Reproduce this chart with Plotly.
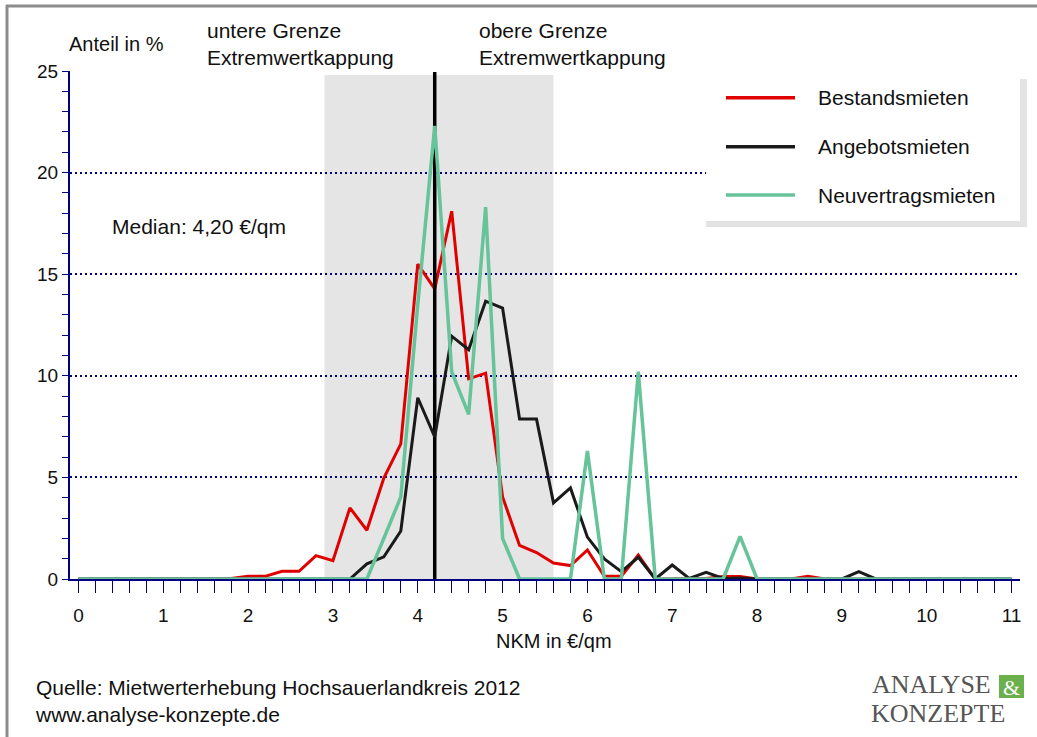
import plotly.graph_objects as go

# ---------------- data ----------------
x_values = [round(0.2 * i, 1) for i in range(56)]  # 0.0 ... 11.0 in 0.2 steps (category grid)

bestandsmieten = [0, 0, 0, 0, 0, 0, 0, 0, 0, 0.03,
                  0.13, 0.13, 0.38, 0.38, 1.15, 0.9, 3.5, 2.4, 4.97, 6.65,
                  15.5, 14.28, 18.1, 9.85, 10.13, 4.04, 1.65, 1.3, 0.79, 0.66,
                  1.43, 0.13, 0.13, 1.18, 0, 0.02, 0.02, 0.02, 0.12, 0.12,
                  0, 0, 0, 0.13, 0, 0, 0, 0, 0, 0,
                  0, 0, 0, 0, 0, 0]

angebotsmieten = [0, 0, 0, 0, 0, 0, 0, 0, 0, 0,
                  0, 0, 0, 0, 0, 0, 0, 0.75, 1.09, 2.36,
                  8.92, 6.99, 11.95, 11.28, 13.67, 13.33, 7.87, 7.87, 3.75, 4.48,
                  2.06, 0.99, 0.36, 1.07, 0, 0.69, 0.03, 0.33, 0.03, 0.05,
                  0, 0, 0, 0, 0, 0, 0.36, 0, 0, 0,
                  0, 0, 0, 0, 0, 0]

neuvertragsmieten = [0, 0, 0, 0, 0, 0, 0, 0, 0, 0,
                     0, 0, 0, 0, 0, 0, 0, 0, 2.0, 4.04,
                     13.5, 22.3, 10.2, 8.1, 18.3, 2.0, 0, 0, 0, 0,
                     6.3, 0, 0, 10.2, 0, 0, 0, 0, 0, 2.1,
                     0, 0, 0, 0, 0, 0, 0, 0, 0, 0,
                     0, 0, 0, 0, 0, 0]

series_names = ["Bestandsmieten", "Angebotsmieten", "Neuvertragsmieten"]
series_colors = ["#E00000", "#1A1A1A", "#66C39A"]

median_value = 4.2
lower_cap = 2.9
upper_cap = 5.6
x_tick_labels = [str(i) for i in range(12)]
y_tick_values = [0, 5, 10, 15, 20, 25]

# ---------------- layout helpers ----------------
W, H = 1037, 737
L, R, T, B = 70, 17, 71, 158
PW, PH = W - L - R, H - T - B


def px(x):
    return (x - L) / PW


def py(y):
    return (H - B - y) / PH


FONT = "Liberation Sans, Arial, sans-serif"
SERIF = "Liberation Serif, Times New Roman, serif"
NAVY = "#000080"
TXT = "#111111"

fig = go.Figure()

fig.add_trace(go.Scatter(x=x_values, y=bestandsmieten, mode="lines", name=series_names[0],
                         line=dict(color=series_colors[0], width=3), showlegend=False))
fig.add_trace(go.Scatter(x=[median_value, median_value], y=[0, 24.95], mode="lines",
                         line=dict(color="#000000", width=3.5), showlegend=False, hoverinfo="skip"))
fig.add_trace(go.Scatter(x=x_values, y=angebotsmieten, mode="lines", name=series_names[1],
                         line=dict(color=series_colors[1], width=3), showlegend=False))
fig.add_trace(go.Scatter(x=x_values, y=neuvertragsmieten, mode="lines", name=series_names[2],
                         line=dict(color=series_colors[2], width=3.5), showlegend=False))

shapes = []
shapes.append(dict(type="rect", xref="x", yref="y", x0=lower_cap, x1=upper_cap, y0=0, y1=24.8,
                   fillcolor="#E5E5E5", line=dict(width=0), layer="below"))
# outer frame (top and left)
shapes.append(dict(type="line", xref="paper", yref="paper", x0=px(6), x1=px(1045), y0=py(6), y1=py(6),
                   line=dict(color="#8C8C8C", width=3), layer="above"))
shapes.append(dict(type="line", xref="paper", yref="paper", x0=px(7), x1=px(7), y0=py(5), y1=py(745),
                   line=dict(color="#8C8C8C", width=3), layer="above"))
# legend box with shadow
shapes.append(dict(type="rect", xref="paper", yref="paper", x0=px(706), x1=px(1027), y0=py(79), y1=py(227),
                   fillcolor="#E3E3E3", line=dict(width=0), layer="above"))
shapes.append(dict(type="rect", xref="paper", yref="paper", x0=px(706), x1=px(1020), y0=py(79), y1=py(221),
                   fillcolor="#FFFFFF", line=dict(width=0), layer="above"))
legend_rows = [97.7, 146.7, 195.0]
annotations = []
for name, color, yy in zip(series_names, series_colors, legend_rows):
    shapes.append(dict(type="line", xref="paper", yref="paper", x0=px(726), x1=px(795), y0=py(yy), y1=py(yy),
                       line=dict(color=color, width=3.5), layer="above"))
    annotations.append(dict(xref="paper", yref="paper", x=px(816), y=py(yy), text=name, showarrow=False,
                            xanchor="left", yanchor="middle", font=dict(family=FONT, size=21, color=TXT)))
# logo "&" box
shapes.append(dict(type="rect", xref="paper", yref="paper", x0=px(999), x1=px(1024), y0=py(675), y1=py(698),
                   fillcolor="#6AB04C", line=dict(width=0), layer="above"))

annotations += [
    dict(xref="paper", yref="paper", x=px(67), y=py(44), text="Anteil in %", showarrow=False,
         xanchor="left", yanchor="middle", font=dict(family=FONT, size=20, color=TXT)),
    dict(xref="paper", yref="paper", x=px(205), y=py(44), text="untere Grenze<br>Extremwertkappung",
         showarrow=False, xanchor="left", yanchor="middle", align="left",
         font=dict(family=FONT, size=21, color=TXT)),
    dict(xref="paper", yref="paper", x=px(477), y=py(44), text="obere Grenze<br>Extremwertkappung",
         showarrow=False, xanchor="left", yanchor="middle", align="left",
         font=dict(family=FONT, size=21, color=TXT)),
    dict(xref="paper", yref="paper", x=px(110), y=py(226), text="Median: 4,20 €/qm", showarrow=False,
         xanchor="left", yanchor="middle", font=dict(family=FONT, size=21, color=TXT)),
    dict(xref="paper", yref="paper", x=px(554), y=py(641), text="NKM in €/qm", showarrow=False,
         xanchor="center", yanchor="middle", font=dict(family=FONT, size=20, color=TXT)),
    dict(xref="paper", yref="paper", x=px(33), y=py(701),
         text="Quelle: Mietwerterhebung Hochsauerlandkreis 2012<br>www.analyse-konzepte.de",
         showarrow=False, xanchor="left", yanchor="middle", align="left",
         font=dict(family=FONT, size=21, color=TXT)),
    dict(xref="paper", yref="paper", x=px(870), y=py(684), text="ANALYSE", showarrow=False,
         xanchor="left", yanchor="middle", font=dict(family=SERIF, size=26, color="#555555")),
    dict(xref="paper", yref="paper", x=px(1011.5), y=py(687), text="&", showarrow=False,
         xanchor="center", yanchor="middle", font=dict(family=SERIF, size=22, color="#FFFFFF")),
    dict(xref="paper", yref="paper", x=px(869), y=py(713), text="KONZEPTE", showarrow=False,
         xanchor="left", yanchor="middle", font=dict(family=SERIF, size=26, color="#555555")),
]

fig.update_layout(
    width=W, height=H,
    margin=dict(l=L, r=R, t=T, b=B, pad=0),
    paper_bgcolor="#FFFFFF", plot_bgcolor="#FFFFFF",
    showlegend=False,
    shapes=shapes, annotations=annotations,
    font=dict(family=FONT, size=19, color=TXT),
)

fig.update_xaxes(
    range=[-0.1, 11.1], tickmode="array", tickvals=list(range(12)), ticktext=x_tick_labels,
    ticks="outside", ticklen=12, tickwidth=1, tickcolor=NAVY,
    minor=dict(tick0=0, dtick=0.2, ticks="outside", ticklen=12, tickwidth=1, tickcolor=NAVY, showgrid=False),
    showline=True, linecolor=NAVY, linewidth=2, showgrid=False, zeroline=False,
    tickfont=dict(family=FONT, size=19, color=TXT), ticklabelstandoff=6,
)
fig.update_yaxes(
    range=[0, 25], tickmode="array", tickvals=y_tick_values, ticktext=[str(v) for v in y_tick_values],
    ticks="outside", ticklen=6, tickwidth=1, tickcolor=NAVY,
    minor=dict(tick0=0, dtick=1, ticks="outside", ticklen=6, tickwidth=1, tickcolor=NAVY, showgrid=False),
    showline=True, linecolor=NAVY, linewidth=2,
    showgrid=True, gridcolor=NAVY, gridwidth=2, griddash="2px,3px", zeroline=False,
    tickfont=dict(family=FONT, size=19, color=TXT),
)

fig.write_html("out.html", config={"displayModeBar": False},
               post_script="document.body.style.margin='0px';")
